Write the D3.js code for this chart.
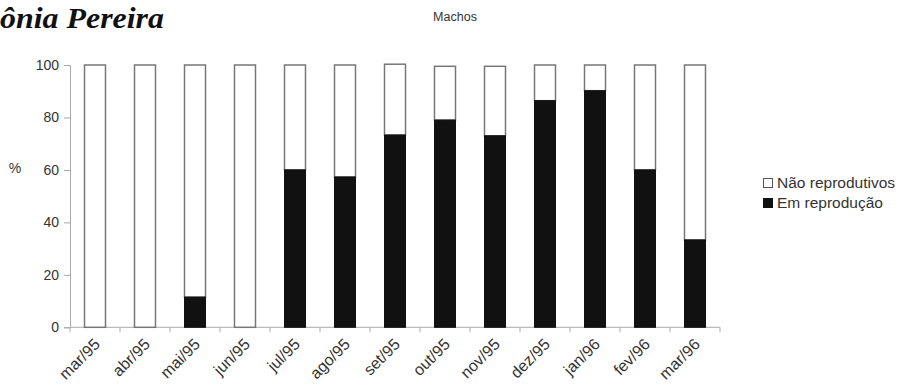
<!DOCTYPE html>
<html>
<head>
<meta charset="utf-8">
<script src="https://cdn.jsdelivr.net/npm/d3@7"></script>
<style>
  html, body { margin: 0; padding: 0; background: #fff; }
  svg { display: block; }
</style>
</head>
<body>
<svg id="chart" width="901" height="388"></svg>
<script>
// Monthly share of males in reproduction (%), Mar/95 – Mar/96
const months = ["mar/95","abr/95","mai/95","jun/95","jul/95","ago/95","set/95","out/95","nov/95","dez/95","jan/96","fev/96","mar/96"];
const emReproducao     = [0, 0, 11.5, 0, 60, 57.3, 73.3, 79, 73, 86.4, 90.2, 60, 33.3];
const naoReprodutivos  = [100, 100, 88.5, 100, 40, 42.7, 27, 20.5, 26.5, 13.6, 9.8, 40, 66.7];
const yTicks = [0, 20, 40, 60, 80, 100];
const seriesNames = ["Em reprodução", "Não reprodutivos"];

const svg = d3.select("#chart");
const margin = { left: 70, right: 181, top: 65, bottom: 61 };
const W = 901, H = 388;
const sans = "'Liberation Sans', Arial, sans-serif";

const x = d3.scaleBand().domain(months).range([margin.left, W - margin.right]).paddingInner(0.58).paddingOuter(0.29);
const xTicksScale = d3.scaleBand().domain(months).range([margin.left, W - margin.right]);
const y = d3.scaleLinear().domain([0, 100]).range([H - margin.bottom + 0.3, margin.top]);

// author name heading
svg.append("text")
  .attr("x", 0).attr("y", 28)
  .attr("textLength", 164).attr("lengthAdjust", "spacingAndGlyphs")
  .style("font-family", "'Liberation Serif', 'Times New Roman', serif")
  .style("font-weight", "bold").style("font-style", "italic")
  .style("font-size", "30px").attr("fill", "#111")
  .text("ônia Pereira");

svg.append("text")
  .attr("x", 455).attr("y", 21)
  .attr("text-anchor", "middle")
  .style("font-family", sans)
  .style("font-size", "12.5px").attr("fill", "#333")
  .text("Machos");

// y axis
const yAxis = svg.append("g").attr("transform", `translate(${margin.left},0)`)
  .call(d3.axisLeft(y).tickValues(yTicks).tickSize(6).tickPadding(5));
yAxis.select(".domain").attr("stroke", "#aaa");
yAxis.selectAll(".tick line").attr("stroke", "#aaa");
yAxis.selectAll(".tick text")
  .style("font-family", sans)
  .style("font-size", "14px").attr("fill", "#333");

svg.append("text")
  .attr("x", 15).attr("y", 173).attr("text-anchor", "middle")
  .style("font-family", sans)
  .style("font-size", "14px").attr("fill", "#333")
  .text("%");

// x axis line with ticks at band boundaries
const y0 = y(0);
svg.append("line").attr("x1", margin.left).attr("x2", W - margin.right)
  .attr("y1", y0).attr("y2", y0).attr("stroke", "#aaa");
const bounds = months.map(m => xTicksScale(m)).concat([xTicksScale.range()[1]]);
svg.selectAll(".xtick").data(bounds).join("line")
  .attr("x1", d => d).attr("x2", d => d)
  .attr("y1", y0).attr("y2", y0 + 5).attr("stroke", "#aaa");

svg.selectAll(".xlabel").data(months).join("text")
  .attr("transform", d => `translate(${x(d) + x.bandwidth() / 2 + 6},${y0 + 18}) rotate(-45)`)
  .attr("text-anchor", "end")
  .style("font-family", sans)
  .style("font-size", "16px").attr("fill", "#333")
  .text(d => d);

// stacked bars
const rows = months.map((m, i) => ({ m, em: emReproducao[i], nao: naoReprodutivos[i] }));
const bars = svg.append("g");
bars.selectAll(".nao").data(rows).join("rect")
  .attr("x", d => x(d.m)).attr("width", x.bandwidth())
  .attr("y", d => y(d.em + d.nao)).attr("height", d => y(d.em) - y(d.em + d.nao))
  .attr("fill", "#fff").attr("stroke", "#777").attr("stroke-width", 1.5);
bars.selectAll(".em").data(rows.filter(d => d.em > 0)).join("rect")
  .attr("x", d => x(d.m)).attr("width", x.bandwidth())
  .attr("y", d => y(d.em)).attr("height", d => y0 - y(d.em))
  .attr("fill", "#111").attr("stroke", "#111").attr("stroke-width", 1);

// legend
const legend = svg.append("g").attr("transform", "translate(763,178)");
const legendItems = [
  { name: seriesNames[1], fill: "#fff", stroke: "#555" },
  { name: seriesNames[0], fill: "#111", stroke: "#111" }
];
legendItems.forEach((it, i) => {
  const g = legend.append("g").attr("transform", `translate(0,${i * 20})`);
  g.append("rect").attr("x", 0.5).attr("y", 0.5).attr("width", 9).attr("height", 9)
    .attr("fill", it.fill).attr("stroke", it.stroke);
  g.append("text").attr("x", 14).attr("y", 10)
    .style("font-family", sans)
    .style("font-size", "15.5px").attr("fill", "#333")
    .text(it.name);
});
</script>
</body>
</html>
